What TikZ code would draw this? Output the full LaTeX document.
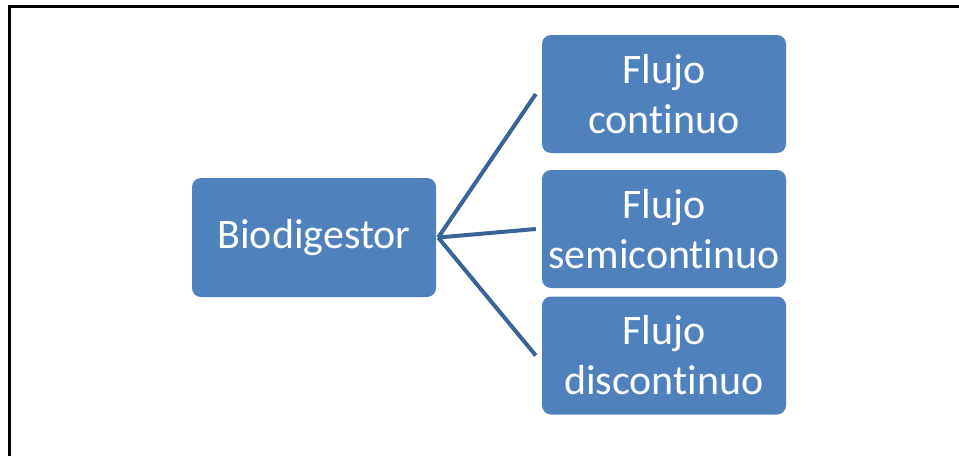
\documentclass[tikz,border=0pt]{standalone}
\usepackage{fontspec}
\setmainfont[Ligatures={NoCommon}]{Carlito}
\definecolor{boxblue}{HTML}{4F81BD}
\definecolor{lineblue}{HTML}{3A6396}
\begin{document}
\begin{tikzpicture}[x=1pt,y=-1pt,
  box/.style={draw=none,fill=boxblue,rounded corners=9pt,minimum width=244pt,minimum height=118pt,
    text=white,align=center,inner sep=0pt,font=\fontsize{42}{50}\selectfont},
  conn/.style={draw=lineblue,line width=4pt}]
\useasboundingbox (0,0) rectangle (959,456);
\draw[line width=3pt] (9,456) -- (9,6) -- (959,6);
\node[box,minimum height=119pt] (bio) at (314,237.5) {Biodigestor};
\node[box] (c1) at (664,94) {Flujo\\continuo};
\node[box] (c2) at (664,229) {Flujo\\semicontinuo};
\node[box] (c3) at (664,355.5) {Flujo\\discontinuo};
\draw[conn] ([xshift=2pt]bio.east) -- ([xshift=-6pt]c1.west);
\draw[conn] ([xshift=2pt]bio.east) -- ([xshift=-6pt]c2.west);
\draw[conn] ([xshift=2pt]bio.east) -- ([xshift=-6pt]c3.west);
\end{tikzpicture}
\end{document}
